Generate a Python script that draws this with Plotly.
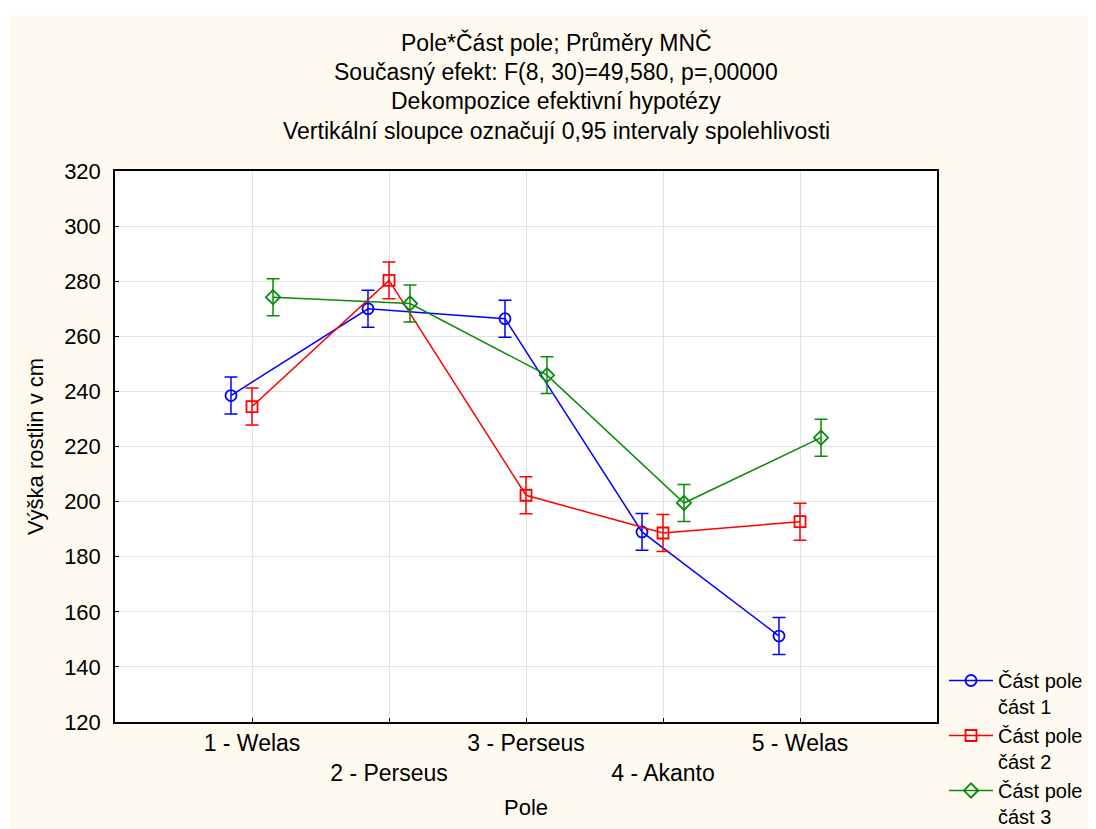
import plotly.graph_objects as go

categories = ["1 - Welas", "2 - Perseus", "3 - Perseus", "4 - Akanto", "5 - Welas"]
tick_labels = ["1 - Welas", " <br>2 - Perseus", "3 - Perseus", " <br>4 - Akanto", "5 - Welas"]
y_ticks = [120, 140, 160, 180, 200, 220, 240, 260, 280, 300, 320]

series_names = ["Část pole<br>část 1", "Část pole<br>část 2", "Část pole<br>část 3"]
part1 = [238.5, 270.0, 266.4, 189.0, 151.2]
part2 = [234.5, 280.3, 202.3, 188.6, 192.7]
part3 = [274.2, 271.9, 245.9, 199.5, 223.2]
ci1 = [6.7, 6.7, 6.7, 6.7, 6.7]
ci2 = [6.7, 6.7, 6.7, 6.7, 6.7]
ci3 = [6.7, 6.7, 6.7, 6.7, 6.7]

titles = [
    "Pole*Část pole; Průměry MNČ",
    "Současný efekt: F(8, 30)=49,580, p=,00000",
    "Dekompozice efektivní hypotézy",
    "Vertikální sloupce označují 0,95 intervaly spolehlivosti",
]

FONT = "Liberation Sans, Arial, sans-serif"
FS = 22
styles = [
    dict(color="#0000FF", symbol="circle-open"),
    dict(color="#FF0000", symbol="square-open"),
    dict(color="#0A8A0A", symbol="diamond-open"),
]

fig = go.Figure()
for name, vals, ci, st in zip(series_names, [part1, part2, part3], [ci1, ci2, ci3], styles):
    fig.add_trace(go.Scatter(
        x=categories, y=vals, name=name, mode="lines+markers",
        line=dict(color=st["color"], width=1.5),
        marker=dict(symbol=st["symbol"], size=11, color=st["color"], line=dict(width=1.8, color=st["color"])),
        error_y=dict(type="data", array=ci, visible=True, color=st["color"], thickness=1.5, width=6.5),
    ))

# page body has an 8px margin, so the figure starts at (8, 8) in the window
OFF = 8
W, H = 1096 - OFF, 829 - OFF
L, T = 115 - OFF, 171 - OFF
R = W - (937 - OFF)
B = H - (722 - OFF)
ph = H - T - B
pw = W - L - R

def px_x(x):
    return (x - OFF - L) / pw

def px_y(y):
    return (H - B - (y - OFF)) / ph

for i, t in enumerate(titles):
    ypix = [43, 72, 101, 131][i]
    fig.add_annotation(text=t, xref="paper", yref="paper",
                       x=px_x(556), y=px_y(ypix),
                       showarrow=False, xanchor="center", yanchor="middle",
                       font=dict(family=FONT, size=23, color="black"))

# white strips at top and left of the cream page
fig.add_shape(type="rect", xref="paper", yref="paper",
              x0=px_x(0), x1=px_x(1200),
              y0=px_y(15), y1=px_y(-10),
              fillcolor="white", line_width=0, layer="below")
fig.add_shape(type="rect", xref="paper", yref="paper",
              x0=px_x(-10), x1=px_x(9),
              y0=px_y(900), y1=px_y(-10),
              fillcolor="white", line_width=0, layer="below")

fig.update_layout(
    width=W, height=H,
    margin=dict(l=L, r=R, t=T, b=B, autoexpand=False),
    paper_bgcolor="#FFFAF0", plot_bgcolor="white",
    font=dict(family=FONT, size=FS, color="black"),
    scattermode="group", scattergap=0.54,
    showlegend=True,
    legend=dict(x=px_x(944), y=px_y(661), xanchor="left", yanchor="top",
                bgcolor="rgba(0,0,0,0)", valign="top", tracegroupgap=0,
                itemwidth=44,
                font=dict(family=FONT, size=20, color="black")),
)
fig.update_xaxes(
    type="category", categoryorder="array", categoryarray=categories,
    range=[-1, 5], tickvals=categories, ticktext=tick_labels,
    tickfont=dict(family=FONT, size=23),
    showline=True, linecolor="black", linewidth=1.5, mirror=True,
    ticks="inside", ticklen=4, tickcolor="black",
    showgrid=True, gridcolor="#E3E3E3", gridwidth=1,
    title=dict(text="Pole", font=dict(family=FONT, size=FS), standoff=14),
    zeroline=False, automargin=False,
)
fig.update_yaxes(
    range=[120, 320], tickvals=y_ticks,
    showline=True, linecolor="black", linewidth=1.5, mirror=True,
    ticks="inside", ticklen=4, tickcolor="black", ticklabelstandoff=8,
    showgrid=True, gridcolor="#E3E3E3", gridwidth=1,
    title=dict(text="Výška rostlin v cm", font=dict(family=FONT, size=FS), standoff=14),
    zeroline=False, automargin=False,
)

fig.write_html("out.html")
